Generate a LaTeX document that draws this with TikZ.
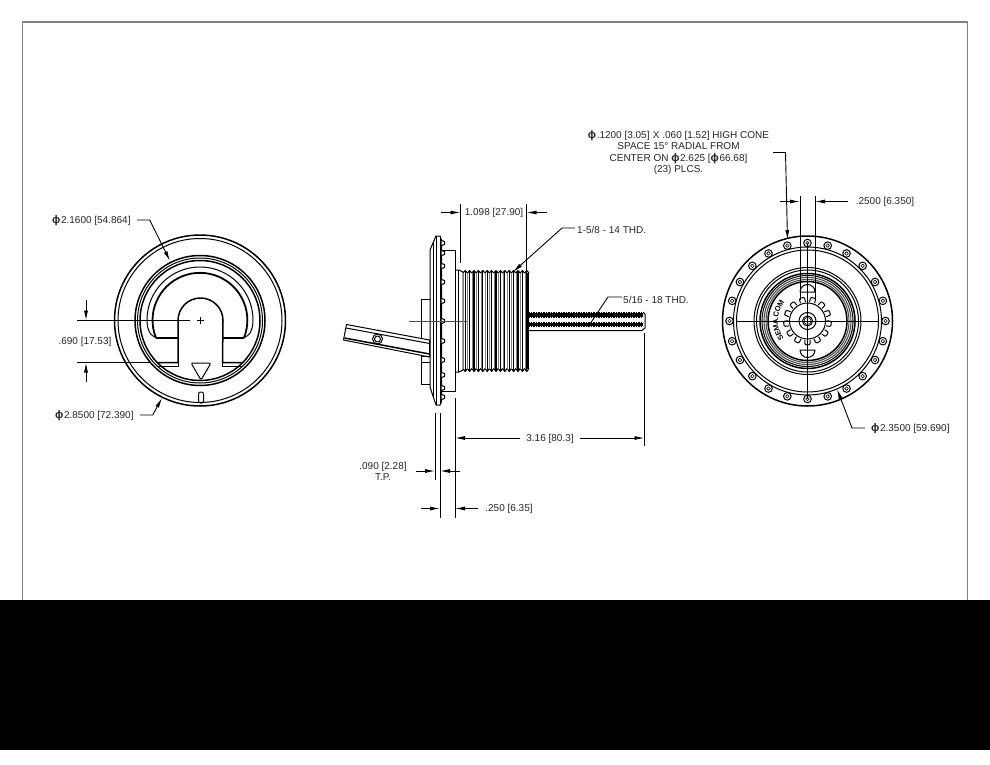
\documentclass[tikz,border=0pt]{standalone}
\usepackage{fontspec}
\setmainfont{Liberation Sans}
\usetikzlibrary{arrows.meta}
\usetikzlibrary{decorations.text}

\newcommand{\dia}{\smash{\fontsize{11}{11}\selectfont\bfseries ϕ}\kern0.6pt}

\begin{document}
\begin{tikzpicture}[x=1pt,y=-1pt,line join=round]
	\tikzstyle{part}=[draw,line width=1pt]
	\tikzstyle{heavy}=[draw,line width=1.5pt]
	\tikzstyle{thin}=[draw,line width=0.6pt]
	\tikzstyle{dim}=[draw,line width=0.9pt,-{Latex[length=10pt,width=4pt]}]
	\tikzstyle{ext}=[draw,line width=0.9pt]
	\tikzstyle{label}=[inner sep=0pt,font=\fontsize{10}{11.3}\selectfont,text=black!85,align=center]

	\useasboundingbox (0,0) rectangle (990,765);
	\fill[white] (0,0) rectangle (990,765);
	\draw[line width=1.1pt,black!50] (22.5,600) -- (22.5,22) -- (967.5,22) -- (967.5,600);
	\fill[black] (0,600) rectangle (990,750);

	% front view
	\coordinate (fc) at (200,320.5);
	\draw[heavy] (fc) circle (85.5);
	\draw[part] (fc) circle (82);
	\draw[heavy] (fc) circle (65);
	\draw[part] (fc) circle (62.5);
	\draw[heavy] (fc) circle (60);
	\draw[line width=1.8pt] (156,338) arc[start angle=158,end angle=382,radius=47.4];
	\draw[part] (160,338) .. controls (151,338) and (147,331) .. (147,320) arc[start angle=180,end angle=360,radius=53] .. controls (253,331) and (249,338) .. (240,338);
	\draw[heavy] (178,338) -- (156,338);
	\draw[heavy] (222.5,338) -- (244,338);
	\draw[heavy] (158,362.5) -- (178,362.5) -- (178,320.5) arc[start angle=180,end angle=360,radius=22.5] -- (222.5,362.5) -- (243,362.5);
	\draw[part] (158,366) -- (178,366) -- (178,362.5);
	\draw[part] (222.5,362.5) -- (222.5,366) -- (243,366);
	\draw[part,rounded corners=2pt] (191,363) -- (211,363) -- (201,380) -- cycle;
	\draw[part,rounded corners=2pt] (198.5,392) rectangle (203.5,403);
	\draw[thin] (196.5,320.5) -- (203.5,320.5);
	\draw[thin] (200,317) -- (200,324);

	\node[label,anchor=west](dsmall) at (52,221){\dia 2.1600 [54.864]};
	\node[label,anchor=west](dlarge) at (55,416){\dia 2.8500 [72.390]};
	\node[label](dslot) at (85,342){.690 [17.53]};
	\coordinate (dsmalla) at (170,261);
	\coordinate (dlargea) at (162,398);
	\coordinate (slota) at (86,320.5);
	\coordinate (slotb) at (86,362.5);

	\draw[dim] (dsmall.east) ++(6,-1) -- ++(13,0) -- (dsmalla);
	\draw[dim] (dlarge.east) ++(6,-1) -- ++(13,0) -- (dlargea);
	\draw[ext] (77,320.5) -- (190,320.5);
	\draw[ext] (77,362.5) -- (150,362.5);
	\draw[dim] (86,300) -- (slota);
	\draw[dim] (86,382) -- (slotb);

	% side view
	\draw[part,fill=white] (430,250) -- (436,236) -- (440,236) -- (441.5,240) -- (441.5,402) -- (440,405) -- (436,405) -- (430,387) -- cycle;
	\draw[part] (436,236) -- (436,405);
	\draw[part] (440,236) -- (440,405);
	\draw[thin] (433,243) -- (433,396);
	\foreach \y in {243,253,266,282,301,321,341,360,375,388,397}
		\draw[part,fill=white] (441.5,\y-2.5) -- (444.5,\y-1.5) -- (444.5,\y+1.5) -- (441.5,\y+2.5);
	\draw[part] (441.5,250.5) -- (455.5,250.5) -- (455.5,391.5) -- (441.5,391.5);
	\draw[part] (455.5,270) -- (459,270) -- (463,272) -- (463,370) -- (459,372) -- (455.5,372);
	\draw[thin] (458,270) -- (458,372);

	\draw[part] (421,299.5) -- (430,299.5);
	\draw[part] (421,299.5) -- (421,384) -- (430,384);
	\draw[part,fill=white] (346.5,324.5) -- (429.5,340) -- (429.5,357) -- (343.5,340) -- cycle;
	\draw[part] (346,328) -- (429.5,343.5);
	\draw[heavy] (344.5,338) -- (429.5,354);
	\draw[part] (421,356) -- (430,356);
	\draw[part] (421,362) -- (430,362);
	\draw[part] (377.5,339) circle (5);
	\draw[part] (377.5,339) circle (3);
	\draw[thin,black!70] (409,321) -- (467,321);

	% thread body
	\foreach \i in {0,...,14} {
		\pgfmathsetmacro{\tx}{463+\i*4.4}
		\draw[line width=1.05pt] (\tx,273) -- (\tx+2.2,270.5) -- (\tx+4.4,273);
		\draw[line width=1.05pt] (\tx,368.5) -- (\tx+2.2,371.5) -- (\tx+4.4,368.5);
		\draw[line width=1.05pt] (\tx+2.2,271) -- (\tx+2.2,371);
		\draw[thin,black!50] (\tx+0.2,273) -- (\tx+0.2,369);
	}
	\draw[line width=1.3pt] (527,273) -- (527,369);
	\draw[part,line width=1.5pt] (528,273) -- (528,369);

	% stud
	\draw[line width=6.2pt,dash pattern=on 1.9pt off 0.6pt] (528,314.8) -- (643,314.8);
	\draw[line width=4pt] (528,314.8) -- (643,314.8);
	\draw[line width=5pt,dash pattern=on 1.9pt off 0.6pt] (528,324.2) -- (643,324.2);
	\draw[line width=3.2pt] (528,324.2) -- (643,324.2);
	\draw[part] (528,330.5) -- (642,330.5) -- (645,328) -- (645,314) -- (643,312);

	\node[label,anchor=west](tbig) at (577,229.5){1-5/8 - 14 THD.};
	\node[label,anchor=west](tstud) at (623,300){5/16 - 18 THD.};
	\node[label](wbig) at (494,213){1.098 [27.90]};
	\node[label](wall) at (550,439){3.16 [80.3]};
	\node[label](wtp) at (383,471.5){.090 [2.28]\\T.P.};
	\node[label](wflange) at (509,508.5){.250 [6.35]};
	\coordinate (tbiga) at (513,272);
	\coordinate (tstuda) at (588,327);

	\draw[dim] (tbig.west) ++(-2,-1.5) -- ++(-13,0) -- (tbiga);
	\draw[ext] (tstud.west) ++(-1,-3) -- ++(-14,0) -- (tstuda);

	\draw[ext] (460.5,204) -- (460.5,263);
	\draw[ext] (526.5,204) -- (526.5,272);
	\draw[dim] (441,212.5) -- (460.5,212.5);
	\draw[dim] (547,212.5) -- (526.5,212.5);

	\draw[ext] (435,413) -- (435,480);
	\draw[ext] (440,413) -- (440,518);
	\draw[ext] (455,398) -- (455,518);
	\draw[ext] (644.5,333) -- (644.5,446);
	\draw[dim] (wall.west) ++(-6,-1) -- (455,438);
	\draw[dim] (wall.east) ++(6,-1) -- (644.5,438);
	\draw[dim] (416,471) -- (435,471);
	\draw[dim] (460,471) -- (440,471);
	\draw[dim] (420.5,508.5) -- (440,508.5);
	\draw[dim] (477.5,508.5) -- (455,508.5);

	% rear view
	\coordinate (rc) at (807.5,321);
	\draw[heavy] (rc) circle (85);
	\draw[part] (rc) circle (74);
	\draw[part] (rc) circle (71);
	\foreach \a in {0,15,...,345} {
		\draw[part,fill=white] (rc) ++(\a:78) circle (3.8);
		\draw[thin] (rc) ++(\a:78) circle (1.8);
	}
	\draw[part] (rc) circle (53.5);
	\draw[part] (rc) circle (51);
	\draw[heavy] (rc) circle (47.5);
	\draw[part] (rc) circle (45.5);
	\draw[line width=1.1pt,black!70] (rc) circle (43.5);
	\draw[line width=1.1pt,black!70] (rc) circle (41.5);
	\draw[heavy] (rc) circle (39.5);
	\draw[part] (800,292) arc[start angle=180,end angle=360,radius=7.5] -- cycle;
	\draw[part] (800,350) arc[start angle=180,end angle=0,radius=7.5] -- cycle;
	\foreach \a in {0,27.7,...,340} {
		\draw[part,fill=white,rounded corners=1pt] (rc) ++(\a+90:19) ++(\a:-2.6) -- ++(\a+90:4.8) -- ++(\a:5.2) -- ++(\a+90:-4.8);
	}
	\draw[part,fill=white] (rc) circle (18);
	\draw[part] (rc) circle (8.5);
	\draw[part] (rc) circle (5);
	\draw[thin] (rc) circle (3.5);
	\path[decorate,decoration={text along path,text={|\fontsize{7.5}{8}\selectfont\bfseries|SEMA.COM},text align=center,raise=-1.5pt}] (rc) ++(140:31) arc[start angle=140,end angle=222,radius=31];

	\draw[ext] (736.5,321) -- (879,321);
	\draw[ext] (807.5,243) -- (807.5,399);
	\draw[ext] (800,196) -- (800,300);
	\draw[ext] (815,196) -- (815,300);

	\node[label](tcone) at (678.5,153){\dia.1200 [3.05]\,\,X .060 [1.52] HIGH CONE\\SPACE 15° RADIAL FROM\\CENTER ON \dia 2.625 [\dia 66.68]\\(23) PLCS.};
	\node[label](wpin) at (885,201.5){.2500 [6.350]};
	\node[label,anchor=west](drear) at (871,429){\dia 2.3500 [59.690]};
	\coordinate (conea) at (787.5,240);
	\coordinate (reara) at (837,389);

	\draw[dim] (773,152.5) -- (785.5,152.5) -- (conea);
	\draw[dim] (780,201.5) -- (800,201.5);
	\draw[dim] (848,201.5) -- (815,201.5);
	\draw[dim] (drear.west) ++(-6,-1) -- ++(-13,0) -- (reara);
\end{tikzpicture}
\end{document}
